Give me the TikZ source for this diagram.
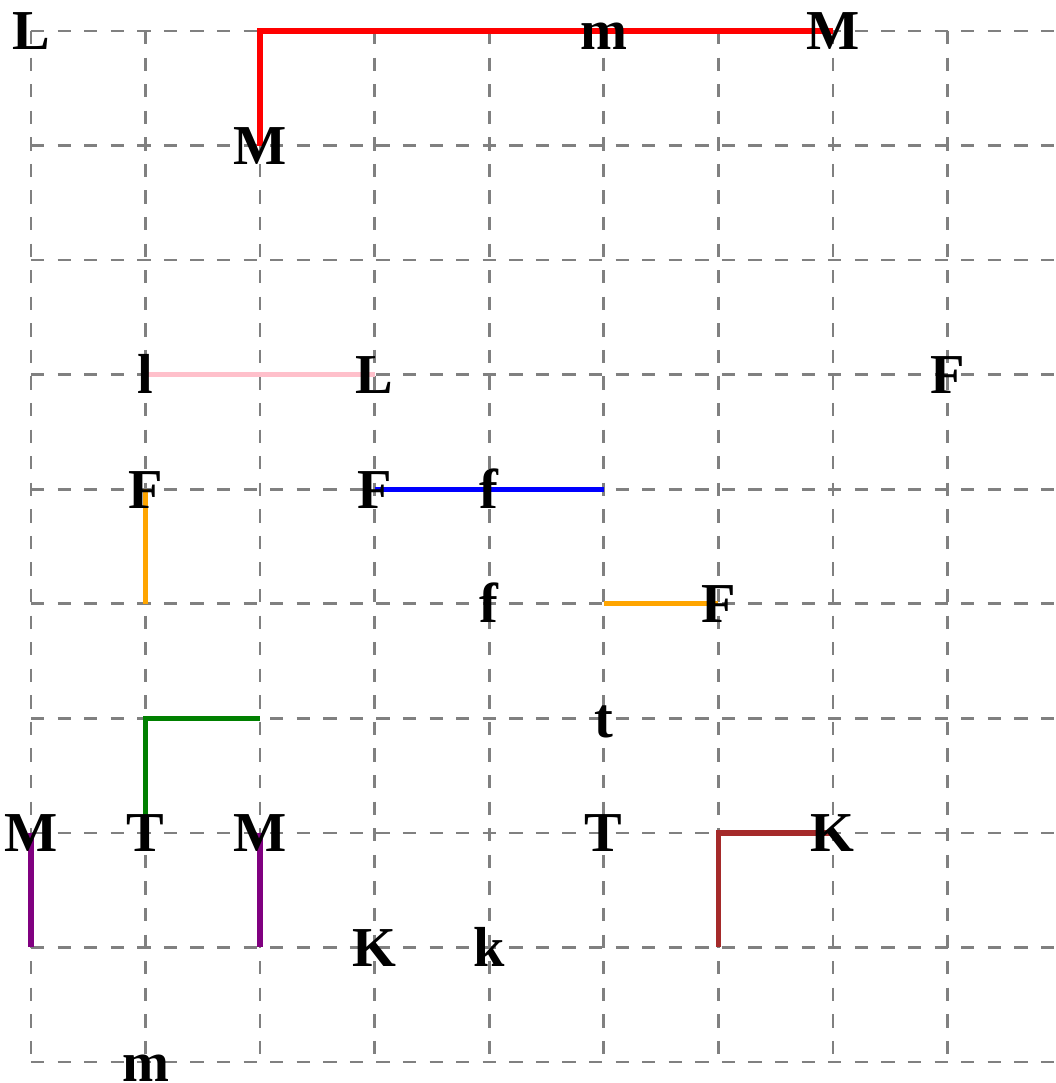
\documentclass[tikz,border=0pt]{standalone}
\usepackage{fontspec}
\setmainfont{Liberation Serif}
\usepackage{xcolor}
\usetikzlibrary{positioning}
\definecolor{path-red}{RGB}{255,0,0}
\definecolor{path-pink}{RGB}{255,192,203}
\definecolor{path-blue}{RGB}{0,0,255}
\definecolor{path-orange}{RGB}{255,165,0}
\definecolor{path-green}{RGB}{0,128,0}
\definecolor{path-purple}{RGB}{128,0,128}
\definecolor{path-brown}{RGB}{165,42,42}

\begin{document}
\begin{tikzpicture}[
  gridline/.style={draw=gray, dash pattern=on 3.3pt off 3.3pt, line width=0.7pt},
  link/.style={line width=1.3pt},
  lbl/.style={font=\fontsize{14}{17}\selectfont\bfseries, inner sep=0pt, text height=0.332cm, text depth=0pt}]
  \useasboundingbox (-0.27,0.27) rectangle (8.942,-9.183);

  % Grid
  \foreach \r in {0,...,9}
    \draw[gridline] (0,-\r) -- (8.942,-\r);
  \foreach \c in {0,...,8}
    \draw[gridline] (\c,0) -- (\c,-9);

  % Grid points used by the paths
  \coordinate (p-2-0) at (2,0);
  \coordinate (p-2-1) at (2,-1);
  \coordinate (p-7-0) at (7,0);
  \coordinate (p-1-3) at (1,-3);
  \coordinate (p-3-3) at (3,-3);
  \coordinate (p-1-4) at (1,-4);
  \coordinate (p-3-4) at (3,-4);
  \coordinate (p-5-4) at (5,-4);
  \coordinate (p-1-5) at (1,-5);
  \coordinate (p-5-5) at (5,-5);
  \coordinate (p-6-5) at (6,-5);
  \coordinate (p-2-6) at (2,-6);
  \coordinate (p-0-7) at (0,-7);
  \coordinate (p-1-7) at (1,-7);
  \coordinate (p-2-7) at (2,-7);
  \coordinate (p-7-7) at (7,-7);
  \coordinate (p-0-8) at (0,-8);
  \coordinate (p-2-8) at (2,-8);
  \coordinate (p-6-8) at (6,-8);

  % Paths
  \draw[link, draw=path-red] (p-2-1) |- (p-7-0);
  \draw[link, draw=path-pink] (p-1-3) -- (p-3-3);
  \draw[link, draw=path-blue] (p-3-4) -- (p-5-4);
  \draw[link, draw=path-orange] (p-1-4) -- (p-1-5);
  \draw[link, draw=path-orange] (p-5-5) -- (p-6-5);
  \draw[link, draw=path-green] (p-1-7) |- (p-2-6);
  \draw[link, draw=path-purple] (p-0-7) -- (p-0-8);
  \draw[link, draw=path-purple] (p-2-7) -- (p-2-8);
  \draw[link, draw=path-brown] (p-6-8) |- (p-7-7);

  % Row 0
  \node[lbl] (L0) at (0,0) {L};
  \node[lbl] (m0) at (5,0) {m};
  \node[lbl] (M0) at (p-7-0) {M};
  % Row 1
  \node[lbl] (M1) at (p-2-1) {M};
  % Row 3
  \node[lbl] (l3) at (p-1-3) {l};
  \node[lbl] (L3) at (p-3-3) {L};
  \node[lbl] (F3) at (8,-3) {F};
  % Row 4
  \node[lbl] (F4a) at (p-1-4) {F};
  \node[lbl] (F4b) at (p-3-4) {F};
  \node[lbl] (f4) at (4,-4) {f};
  % Row 5
  \node[lbl] (f5) at (4,-5) {f};
  \node[lbl] (F5) at (p-6-5) {F};
  % Row 6
  \node[lbl] (t6) at (5,-6) {t};
  % Row 7
  \node[lbl] (M7a) at (p-0-7) {M};
  \node[lbl] (T7a) at (p-1-7) {T};
  \node[lbl] (M7b) at (p-2-7) {M};
  \node[lbl] (T7b) at (5,-7) {T};
  \node[lbl] (K7) at (p-7-7) {K};
  % Row 8
  \node[lbl] (K8) at (3,-8) {K};
  \node[lbl] (k8) at (4,-8) {k};
  % Row 9
  \node[lbl] (m9) at (1,-9) {m};
\end{tikzpicture}
\end{document}
